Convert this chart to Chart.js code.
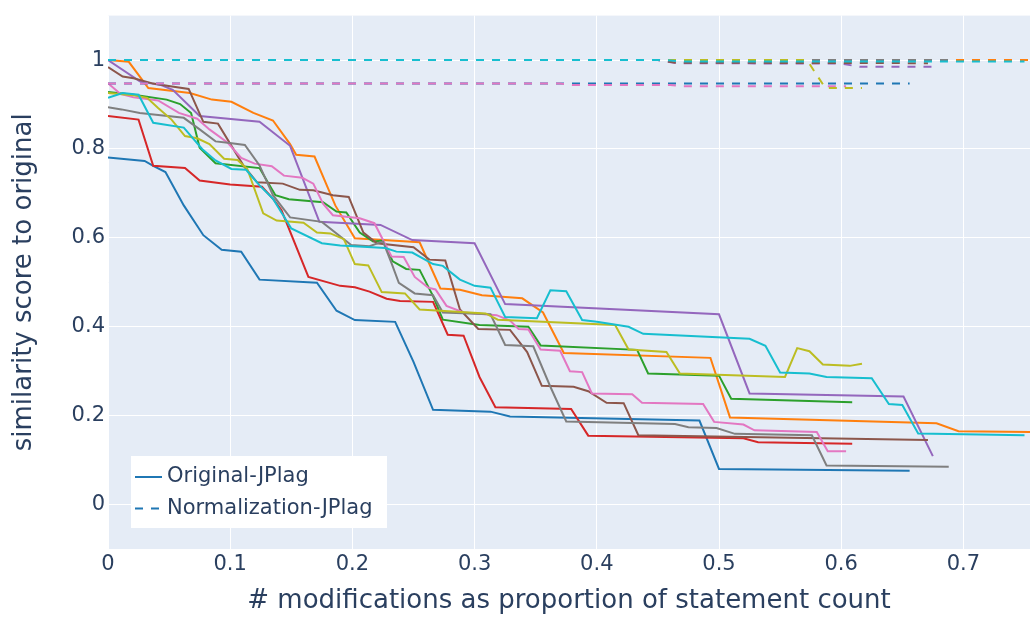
<!DOCTYPE html>
<html><head><meta charset="utf-8">
<script src="https://cdn.jsdelivr.net/npm/chart.js@4"></script>
<style>html,body{margin:0;padding:0;background:#fff}#wrap{width:1030px;height:619px}</style>
</head><body><div id="wrap"><canvas id="c" width="1030" height="619"></canvas></div>
<script>
// ---- axis / tick data ----
const xTicks = [0, 0.1, 0.2, 0.3, 0.4, 0.5, 0.6, 0.7];
const yTicks = [0, 0.2, 0.4, 0.6, 0.8, 1];
const xRange = [0, 0.7545];
const yRange = [-0.1, 1.1];
const groupNames = ['Original-JPlag', 'Normalization-JPlag'];
const xTitle = '# modifications as proportion of statement count';
const yTitle = 'similarity score to original';
const palette = ['#1f77b4','#ff7f0e','#2ca02c','#d62728','#9467bd','#8c564b','#e377c2','#7f7f7f','#bcbd22','#17becf'];

// ---- Original-JPlag series ([x, y]) ----
const origBlue = [[0,0.781],[0.030,0.773],[0.037,0.762],[0.047,0.748],[0.062,0.673],[0.078,0.606],[0.093,0.573],[0.109,0.569],[0.124,0.506],[0.171,0.499],[0.187,0.436],[0.202,0.415],[0.235,0.411],[0.250,0.321],[0.266,0.213],[0.313,0.209],[0.329,0.198],[0.484,0.189],[0.500,0.080],[0.656,0.076]];
const origOrange = [[0,1.0],[0.017,0.996],[0.033,0.937],[0.067,0.926],[0.085,0.911],[0.101,0.906],[0.119,0.881],[0.135,0.864],[0.149,0.811],[0.154,0.787],[0.169,0.783],[0.186,0.673],[0.202,0.599],[0.255,0.590],[0.272,0.486],[0.288,0.483],[0.306,0.471],[0.339,0.464],[0.356,0.432],[0.373,0.341],[0.493,0.330],[0.509,0.196],[0.678,0.183],[0.696,0.165],[0.755,0.163]];
const origGreen = [[0,0.928],[0.021,0.922],[0.048,0.911],[0.059,0.901],[0.068,0.881],[0.075,0.803],[0.088,0.768],[0.124,0.757],[0.137,0.696],[0.148,0.687],[0.176,0.680],[0.187,0.659],[0.195,0.657],[0.206,0.612],[0.217,0.592],[0.225,0.594],[0.233,0.547],[0.244,0.530],[0.255,0.528],[0.266,0.469],[0.274,0.416],[0.304,0.404],[0.344,0.400],[0.354,0.358],[0.433,0.348],[0.442,0.295],[0.500,0.290],[0.510,0.238],[0.609,0.230]];
const origRed = [[0,0.874],[0.025,0.866],[0.037,0.762],[0.063,0.757],[0.075,0.729],[0.100,0.720],[0.126,0.715],[0.135,0.688],[0.142,0.662],[0.164,0.512],[0.190,0.492],[0.202,0.489],[0.214,0.479],[0.228,0.463],[0.239,0.458],[0.266,0.456],[0.278,0.382],[0.291,0.380],[0.304,0.287],[0.317,0.219],[0.379,0.215],[0.393,0.155],[0.520,0.149],[0.532,0.140],[0.609,0.137]];
const origPurple = [[0,1.0],[0.026,0.952],[0.043,0.944],[0.053,0.933],[0.075,0.874],[0.124,0.861],[0.149,0.807],[0.173,0.636],[0.223,0.629],[0.249,0.595],[0.300,0.588],[0.325,0.451],[0.500,0.428],[0.525,0.250],[0.651,0.243],[0.675,0.109]];
const origBrown = [[0,0.984],[0.012,0.963],[0.021,0.959],[0.037,0.947],[0.051,0.941],[0.066,0.935],[0.078,0.861],[0.090,0.857],[0.111,0.762],[0.122,0.725],[0.143,0.722],[0.157,0.708],[0.168,0.707],[0.184,0.696],[0.197,0.692],[0.209,0.612],[0.220,0.588],[0.250,0.579],[0.263,0.551],[0.276,0.549],[0.288,0.439],[0.303,0.395],[0.329,0.393],[0.343,0.343],[0.355,0.267],[0.381,0.265],[0.393,0.255],[0.408,0.229],[0.422,0.228],[0.434,0.156],[0.671,0.145]];
const origPink = [[0,0.948],[0.010,0.924],[0.021,0.916],[0.041,0.909],[0.058,0.881],[0.073,0.868],[0.083,0.844],[0.098,0.814],[0.109,0.780],[0.120,0.767],[0.134,0.761],[0.144,0.740],[0.159,0.735],[0.168,0.722],[0.176,0.677],[0.184,0.651],[0.206,0.644],[0.218,0.633],[0.232,0.558],[0.242,0.557],[0.251,0.512],[0.262,0.488],[0.268,0.484],[0.277,0.447],[0.291,0.432],[0.318,0.426],[0.329,0.414],[0.336,0.395],[0.344,0.394],[0.354,0.349],[0.370,0.346],[0.378,0.300],[0.388,0.298],[0.396,0.250],[0.429,0.248],[0.437,0.229],[0.487,0.226],[0.496,0.186],[0.520,0.180],[0.529,0.167],[0.580,0.163],[0.589,0.120],[0.604,0.120]];
const origGray = [[0,0.894],[0.011,0.889],[0.026,0.881],[0.043,0.876],[0.062,0.870],[0.075,0.844],[0.088,0.817],[0.098,0.814],[0.112,0.809],[0.124,0.763],[0.135,0.696],[0.149,0.646],[0.175,0.636],[0.199,0.584],[0.214,0.581],[0.225,0.592],[0.232,0.543],[0.238,0.499],[0.251,0.475],[0.266,0.471],[0.274,0.432],[0.313,0.428],[0.325,0.359],[0.348,0.356],[0.362,0.265],[0.375,0.187],[0.464,0.181],[0.475,0.174],[0.498,0.172],[0.513,0.159],[0.576,0.156],[0.588,0.088],[0.688,0.085]];
const origOlive = [[0,0.926],[0.021,0.921],[0.032,0.915],[0.041,0.892],[0.052,0.866],[0.063,0.829],[0.073,0.824],[0.083,0.811],[0.095,0.778],[0.106,0.775],[0.114,0.755],[0.127,0.655],[0.138,0.639],[0.160,0.634],[0.171,0.612],[0.182,0.610],[0.193,0.597],[0.202,0.541],[0.213,0.538],[0.224,0.478],[0.243,0.475],[0.255,0.439],[0.272,0.436],[0.309,0.430],[0.319,0.416],[0.415,0.404],[0.426,0.349],[0.457,0.343],[0.468,0.295],[0.554,0.287],[0.564,0.352],[0.574,0.345],[0.585,0.315],[0.607,0.312],[0.617,0.317]];
const origCyan = [[0,0.915],[0.012,0.926],[0.025,0.922],[0.037,0.859],[0.062,0.848],[0.077,0.800],[0.088,0.774],[0.101,0.755],[0.113,0.753],[0.124,0.718],[0.135,0.688],[0.150,0.621],[0.175,0.588],[0.190,0.583],[0.227,0.577],[0.236,0.569],[0.249,0.567],[0.266,0.541],[0.274,0.537],[0.288,0.506],[0.300,0.492],[0.313,0.488],[0.325,0.422],[0.351,0.419],[0.362,0.482],[0.375,0.480],[0.388,0.415],[0.400,0.411],[0.426,0.400],[0.438,0.384],[0.525,0.373],[0.538,0.357],[0.550,0.297],[0.574,0.295],[0.588,0.287],[0.625,0.284],[0.639,0.226],[0.650,0.224],[0.663,0.160],[0.750,0.156]];

// ---- Normalization-JPlag series ([x, y]) ----
const normBlue = [[0,0.947],[0.656,0.947]];
const normOrange = [[0,1.0],[0.755,1.0]];
const normGreen = [[0,1.0],[0.609,1.0]];
const normRed = [[0,1.0],[0.609,1.0]];
const normPurple = [[0,1.0],[0.450,1.0],[0.465,0.993],[0.600,0.992],[0.615,0.985],[0.675,0.985]];
const normBrown = [[0,1.0],[0.450,1.0],[0.465,0.994],[0.671,0.993]];
const normPink = [[0,0.947],[0.370,0.947],[0.380,0.944],[0.460,0.944],[0.470,0.941],[0.604,0.941]];
const normGray = [[0,1.0],[0.688,1.0]];
const normOlive = [[0,1.0],[0.572,1.0],[0.587,0.937],[0.617,0.937]];
const normCyan = [[0,1.0],[0.455,1.0],[0.470,0.997],[0.750,0.997]];

const origSeries = [origBlue, origOrange, origGreen, origRed, origPurple, origBrown, origPink, origGray, origOlive, origCyan];
const normSeries = [normBlue, normOrange, normGreen, normRed, normPurple, normBrown, normPink, normGray, normOlive, normCyan];

const FONT = "'DejaVu Sans', Verdana, sans-serif";
const TEXT = '#2a3f5f';
const DASH = [8, 8];
const fmt = v => String(+(+v).toFixed(2));

const datasets = [];
let idx = 0;
function addSet(points, color, dashed, group) {
  datasets.push({
    label: group,
    data: points.map(p => ({x: p[0], y: p[1]})),
    borderColor: color,
    backgroundColor: color,
    borderWidth: 2,
    borderDash: dashed ? DASH : [],
    borderCapStyle: 'butt',
    pointRadius: 0,
    pointHoverRadius: 0,
    fill: false,
    tension: 0,
    order: -(idx++)
  });
}
origSeries.forEach((s, i) => addSet(s, palette[i], false, groupNames[0]));
normSeries.forEach((s, i) => addSet(s, palette[i], true, groupNames[1]));

const bgPlugin = {
  id: 'plotBg',
  beforeDraw(chart) {
    const {ctx, chartArea: a} = chart;
    ctx.save();
    ctx.fillStyle = '#E5ECF6';
    ctx.fillRect(a.left, a.top, a.right - a.left, a.bottom - a.top);
    ctx.restore();
  }
};

const legendPlugin = {
  id: 'insideLegend',
  afterDraw(chart) {
    const {ctx, chartArea: a} = chart;
    const x0 = a.left + 23, y0 = a.bottom - 93, w = 256, h = 72;
    ctx.save();
    ctx.fillStyle = '#ffffff';
    ctx.fillRect(x0, y0, w, h);
    const rows = [{label: groupNames[0], dash: []}, {label: groupNames[1], dash: DASH}];
    rows.forEach((r, i) => {
      const yy = y0 + 21 + i * 31.5;
      ctx.strokeStyle = palette[0];
      ctx.lineWidth = 2;
      ctx.setLineDash(r.dash);
      ctx.beginPath();
      ctx.moveTo(x0 + 4, yy);
      ctx.lineTo(x0 + 31, yy);
      ctx.stroke();
      ctx.setLineDash([]);
      ctx.fillStyle = TEXT;
      ctx.font = '21px ' + FONT;
      ctx.textBaseline = 'middle';
      ctx.textAlign = 'left';
      ctx.fillText(r.label, x0 + 36, yy);
    });
    ctx.restore();
  }
};

new Chart(document.getElementById('c'), {
  type: 'line',
  data: {datasets},
  plugins: [bgPlugin, legendPlugin],
  options: {
    responsive: false,
    devicePixelRatio: 1,
    animation: false,
    events: [],
    layout: {padding: {top: 9, right: 0, bottom: 0, left: 0}},
    plugins: {legend: {display: false}, tooltip: {enabled: false}},
    scales: {
      x: {
        type: 'linear',
        min: xRange[0], max: xRange[1],
        afterBuildTicks: s => { s.ticks = xTicks.map(v => ({value: v})); },
        afterFit: s => { s.height = 70; },
        grid: {color: '#ffffff', lineWidth: 1, drawTicks: false},
        border: {display: false},
        ticks: {color: TEXT, font: {family: FONT, size: 21}, padding: 3, maxRotation: 0, autoSkip: false, callback: fmt},
        title: {display: true, text: xTitle, color: TEXT, font: {family: FONT, size: 26}, padding: {top: 0, bottom: 2}}
      },
      y: {
        type: 'linear',
        min: yRange[0], max: yRange[1],
        afterBuildTicks: s => { s.ticks = yTicks.map(v => ({value: v})); },
        afterFit: s => { s.width = 108; },
        grid: {color: '#ffffff', lineWidth: 1, drawTicks: false},
        border: {display: false},
        ticks: {color: TEXT, font: {family: FONT, size: 21}, padding: 3, autoSkip: false, callback: fmt},
        title: {display: true, text: yTitle, color: TEXT, font: {family: FONT, size: 26}, padding: {top: 9, bottom: 0}}
      }
    }
  }
});
</script></body></html>
